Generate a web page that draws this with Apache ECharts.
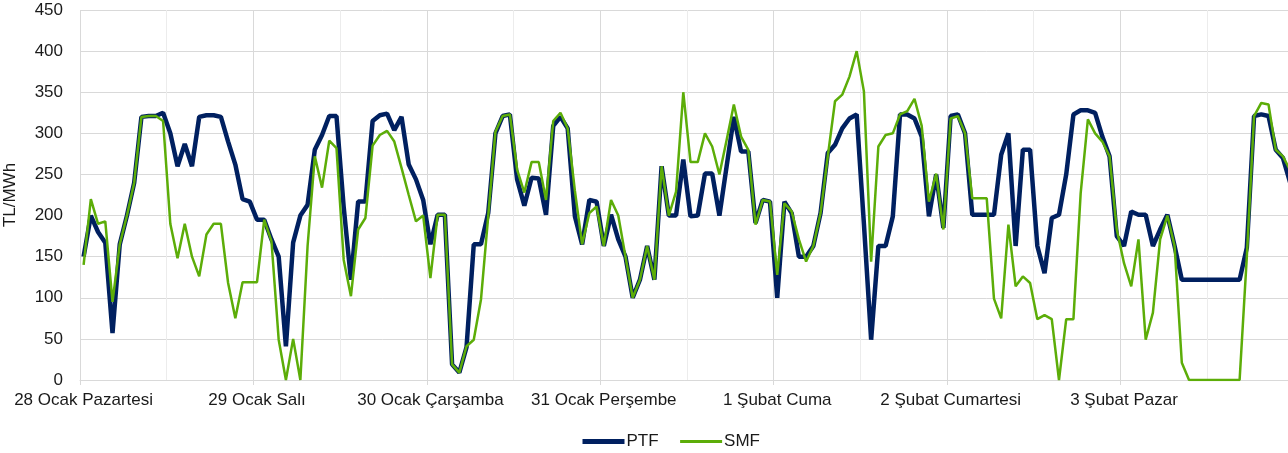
<!DOCTYPE html>
<html>
<head>
<meta charset="utf-8">
<script src="https://cdn.jsdelivr.net/npm/echarts@6/dist/echarts.min.js"></script>
<style>
html,body{margin:0;padding:0;background:#fff;}
#chart{width:1288px;height:453px;}
</style>
</head>
<body>
<div id="chart"></div>
<script>
const dayLabels = ["28 Ocak Pazartesi","29 Ocak Salı","30 Ocak Çarşamba","31 Ocak Perşembe","1 Şubat Cuma","2 Şubat Cumartesi","3 Şubat Pazar"];
const hours = ["00","01","02","03","04","05","06","07","08","09","10","11","12","13","14","15","16","17","18","19","20","21","22","23"];
const yTicks = [0,50,100,150,200,250,300,350,400,450];

const ptf = [
  150,200,180,167,57,165,200,240,320,321,321,325,300,260,287,260,320,322,322,320,290,262,220,217,
  195,195,171,150,41,167,200,213,280,298,321,321,210,122,217,217,315,322,324,304,320,262,244,219,
  165,201,201,19,9,40,165,165,203,300,321,323,244,212,246,245,201,309,320,306,199,165,219,217,
  163,201,171,150,100,122,163,122,260,200,200,268,199,200,251,251,200,260,320,278,278,191,219,217,
  100,217,203,150,150,163,203,276,286,306,318,323,190,49,163,163,199,323,323,318,296,199,250,185,
  321,323,300,201,201,201,201,274,300,163,280,280,163,130,197,201,250,323,328,328,325,296,272,175,
  163,205,201,201,163,183,201,163,122,122,122,122,122,122,122,122,122,161,321,323,321,280,270,240
];
const smf = [
  140,220,190,193,95,165,200,240,320,321,321,315,190,148,190,150,126,177,190,190,118,75,119,119,
  119,195,169,49,0,50,0,163,272,234,291,282,146,102,183,197,285,298,303,290,258,225,193,200,
  124,201,201,19,9,41,49,98,199,302,321,323,256,228,265,265,219,315,325,306,230,165,203,211,
  163,219,200,150,100,122,163,122,260,200,229,350,265,265,300,284,250,292,335,296,280,189,219,217,
  128,215,205,171,144,163,203,272,339,347,369,400,351,144,284,298,300,323,327,342,309,217,251,183,
  318,321,300,221,221,221,99,75,189,114,126,118,74,79,74,0,74,74,227,317,300,290,272,183,
  142,114,171,49,82,171,200,163,21,0,0,0,0,0,0,0,0,150,321,337,335,280,272,255
];

const categories = [];
dayLabels.forEach(d => hours.forEach(h => categories.push(d + " " + h + ":00")));

const chart = echarts.init(document.getElementById('chart'), null, {renderer:'canvas'});
const FONT = 'Liberation Sans, Arial, sans-serif';
const NAVY = '#002060';
const GREEN = '#5cad08';
chart.setOption({
  animation: false,
  backgroundColor: '#ffffff',
  textStyle: {fontFamily: FONT},
  grid: {left: 80, top: 10, width: 168 * 7.225, height: 370, containLabel: false, outerBoundsMode: 'none'},
  legend: {
    left: 575, top: 428,
    itemWidth: 42, itemHeight: 14, itemGap: 20,
    itemStyle: {opacity: 0},
    textStyle: {fontFamily: FONT, fontSize: 17, color: '#1a1a1a', padding: [0, 0, 0, -3]},
    data: [
      {name: 'PTF', lineStyle: {width: 5, color: NAVY}, itemStyle: {opacity: 0}},
      {name: 'SMF', lineStyle: {width: 3, color: GREEN}, itemStyle: {opacity: 0}}
    ]
  },
  xAxis: {
    type: 'category',
    data: categories,
    boundaryGap: true,
    axisLine: {show: true, lineStyle: {color: '#d9d9d9', width: 1}},
    axisTick: {show: true, interval: 23, length: 5, lineStyle: {color: '#d9d9d9'}},
    axisLabel: {
      interval: 23, margin: 12, fontSize: 17, color: '#1a1a1a', fontFamily: FONT,
      formatter: v => v.replace(/ \d\d:00$/, '')
    },
    splitLine: {show: true, interval: 11, lineStyle: {color: ['#d9d9d9', '#ececec'], width: 1}}
  },
  yAxis: {
    type: 'value',
    min: yTicks[0], max: yTicks[yTicks.length - 1], interval: 50,
    name: 'TL/MWh', nameLocation: 'middle', nameGap: 61, nameRotate: 90,
    nameTextStyle: {fontSize: 17, color: '#1a1a1a', fontFamily: FONT},
    axisLine: {show: false},
    axisTick: {show: false},
    axisLabel: {margin: 17, fontSize: 17, color: '#1a1a1a', fontFamily: FONT},
    splitLine: {show: true, lineStyle: {color: '#d9d9d9', width: 1}}
  },
  series: [
    {name: 'PTF', type: 'line', data: ptf, symbol: 'none', z: 2,
     lineStyle: {color: NAVY, width: 4.5}, itemStyle: {color: NAVY}},
    {name: 'SMF', type: 'line', data: smf, symbol: 'none', z: 3,
     lineStyle: {color: GREEN, width: 2.5}, itemStyle: {color: GREEN}}
  ]
});
</script>
</body>
</html>
